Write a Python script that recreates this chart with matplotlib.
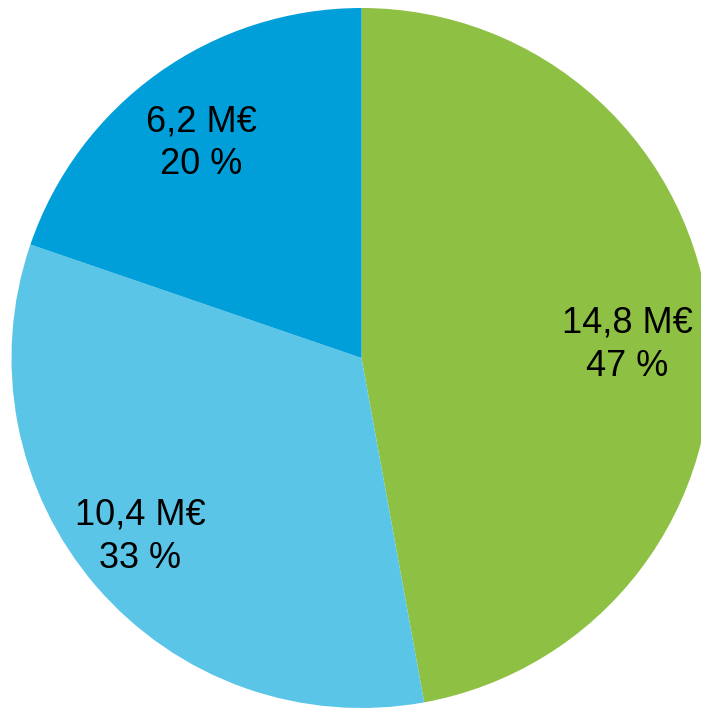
import matplotlib
matplotlib.use("Agg")
import matplotlib.pyplot as plt
import numpy as np

values = [14.8, 10.4, 6.2]
value_labels = ["14,8 M€", "10,4 M€", "6,2 M€"]
pct_labels = ["47 %", "33 %", "20 %"]
colors = ["#8DC043", "#5BC5E8", "#009FDA"]
label_dist = [0.761, 0.807, 0.773]
label_angle_offset = [-1.6, -2.3, 0.7]

plt.rcParams['font.family'] = ['Liberation Sans', 'DejaVu Sans']

W, H = 701, 710
fig = plt.figure(figsize=(W / 100, H / 100), dpi=100)
cx, cy, r = 361.5, 358, 350
ax = fig.add_axes([(cx - r) / W, (H - cy - r) / H, 2 * r / W, 2 * r / H])

wedges, _ = ax.pie(values, colors=colors, startangle=90, counterclock=False,
                   radius=1, wedgeprops=dict(linewidth=0))
for w in wedges:
    w.set_clip_on(False)

for w, vl, pl, d, off in zip(wedges, value_labels, pct_labels, label_dist, label_angle_offset):
    mid = np.deg2rad((w.theta1 + w.theta2) / 2 + off)
    ax.text(d * np.cos(mid), d * np.sin(mid) - 0.01, f"{vl}\n{pl}", ha="center", va="center",
            fontsize=26, color="black", linespacing=1.3)

ax.set_xlim(-1, 1)
ax.set_ylim(-1, 1)
ax.set_aspect("auto")
ax.axis("off")

fig.savefig("out.png", dpi=100)
